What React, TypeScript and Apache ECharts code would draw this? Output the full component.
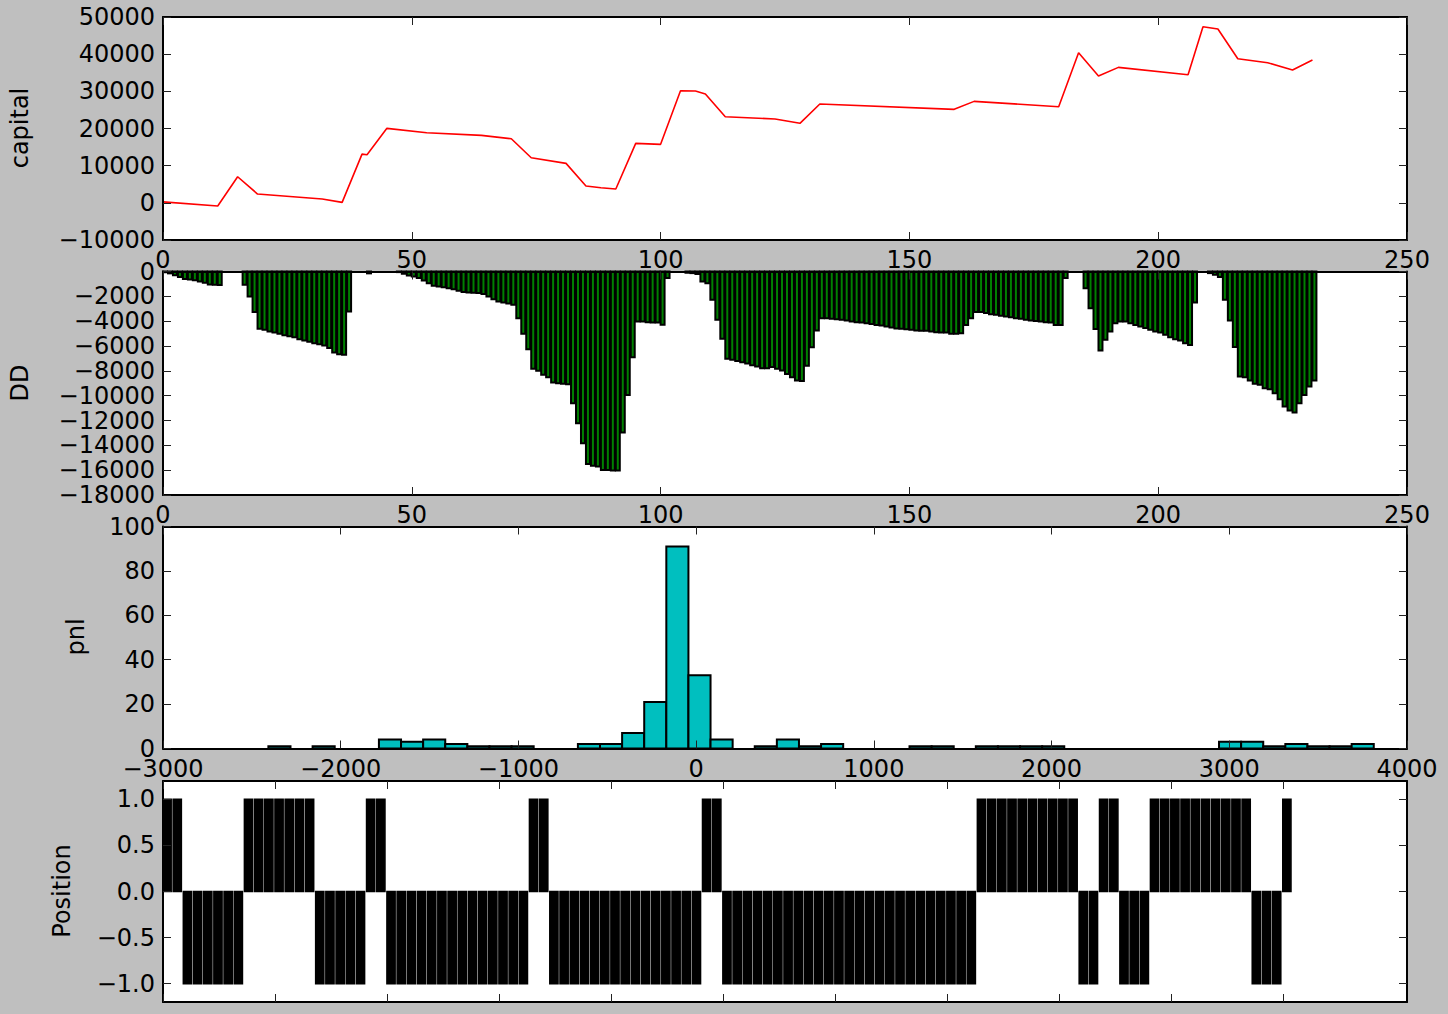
import React, { useEffect, useRef } from "react";
import * as echarts from "echarts";

// ---------- data ----------
const capitalX = [0, 11, 15, 19, 32, 36, 40, 41, 45, 53, 64, 70, 74, 81, 85, 88, 91, 95, 100, 104, 107, 109, 113, 123, 128, 132, 159, 163, 180, 184, 188, 192, 206, 209, 212, 216, 219, 222, 227, 231];
const capitalY = [250, -860, 7020, 2370, 1020, 130, 13100, 12950, 20040, 18860, 18150, 17250, 12130, 10620, 4520, 4060, 3710, 16000, 15740, 30160, 30080, 29270, 23170, 22550, 21390, 26580, 25150, 27300, 25850, 40380, 34110, 36450, 34460, 47380, 46760, 38770, 38230, 37690, 35730, 38420];

const ddValues = [
  -60, -150, -300, -450, -600, -650, -700, -800, -900, -1050,
  -1070, -1080, 0, 0, 0, 0, -1070, -2010, -3270, -4620,
  -4700, -4830, -4920, -5020, -5130, -5210, -5290, -5450, -5560, -5660,
  -5770, -5850, -5960, -6170, -6520, -6660, -6710, -3220, 0, 0,
  0, -150, 0, 0, 0, 0, 0, -50, -190, -320,
  -400, -530, -720, -940, -1150, -1210, -1260, -1340, -1420, -1560,
  -1660, -1690, -1720, -1740, -1820, -2010, -2230, -2420, -2500, -2580,
  -2680, -3760, -5020, -6260, -7840, -8000, -8320, -8510, -8940, -9000,
  -9050, -9080, -10610, -12220, -13830, -15500, -15650, -15710, -15980, -15980,
  -16030, -16030, -12970, -9940, -6900, -4030, -4030, -4080, -4110, -4110,
  -4290, -530, 0, 0, 0, -100, -130, -200, -800, -940,
  -2280, -3890, -5420, -7030, -7110, -7200, -7310, -7410, -7550, -7650,
  -7790, -7790, -7700, -7840, -7980, -8250, -8510, -8780, -8810, -7600,
  -6100, -4750, -3760, -3760, -3810, -3840, -3890, -3950, -4030, -4080,
  -4110, -4160, -4220, -4300, -4350, -4430, -4510, -4590, -4620, -4650,
  -4700, -4750, -4780, -4780, -4830, -4890, -4910, -4910, -5020, -5020,
  -4970, -4300, -3760, -3270, -3270, -3350, -3440, -3490, -3570, -3630,
  -3680, -3760, -3810, -3890, -3950, -3980, -4030, -4080, -4110, -4300,
  -4300, -530, 0, 0, 0, -1340, -2950, -4640, -6360, -5500,
  -4830, -4160, -4030, -4030, -4160, -4300, -4430, -4560, -4700, -4830,
  -4910, -5100, -5290, -5450, -5560, -5770, -5910, -2500, 0, 0,
  -130, -270, -450, -2280, -3940, -6090, -8460, -8510, -8780, -9050,
  -9130, -9400, -9480, -9800, -10280, -10870, -11200, -11360, -10610, -9940,
  -9260, -8780,
];

const pnlBinStart = -2407;
const pnlBinWidth = 124.4;
const pnlCounts = [
  1, 0, 1, 0, 0, 4, 3, 4, 2, 1,
  1, 1, 0, 0, 2, 2, 7, 21, 91, 33,
  4, 0, 1, 4, 1, 2, 0, 0, 0, 1,
  1, 0, 1, 1, 1, 1, 0, 0, 0, 0,
  0, 0, 0, 3, 3, 1, 2, 1, 1, 2,
];

const positionValues = [
  1, 1, -1, -1, -1, -1, -1, -1, 1, 1,
  1, 1, 1, 1, 1, -1, -1, -1, -1, -1,
  1, 1, -1, -1, -1, -1, -1, -1, -1, -1,
  -1, -1, -1, -1, -1, -1, 1, 1, -1, -1,
  -1, -1, -1, -1, -1, -1, -1, -1, -1, -1,
  -1, -1, -1, 1, 1, -1, -1, -1, -1, -1,
  -1, -1, -1, -1, -1, -1, -1, -1, -1, -1,
  -1, -1, -1, -1, -1, -1, -1, -1, -1, -1,
  1, 1, 1, 1, 1, 1, 1, 1, 1, 1,
  -1, -1, 1, 1, -1, -1, -1, 1, 1, 1,
  1, 1, 1, 1, 1, 1, 1, -1, -1, -1,
  1,
];
const positionYTicks = [-1, -0.5, 0, 0.5, 1];
const positionXTicks = [0, 11, 22, 33, 44, 55, 66, 77, 88, 99, 110];
const positionXMax = 122.2;

const axisTitles = ["capital", "DD", "pnl", "Position"];

// ---------- layout / style ----------
const FONT = "DejaVu Sans";
const FS = 24;
const BAR_W = 0.8;
const GRIDS = [
  { left: 163, top: 17, width: 1244, height: 223 },
  { left: 163, top: 271.5, width: 1244, height: 223.5 },
  { left: 163, top: 526.5, width: 1244, height: 222 },
  { left: 163, top: 781, width: 1244, height: 221 },
];
const TITLE_POS = [
  [20, 128],
  [20, 383],
  [76, 637],
  [62, 891],
];

const minus = (s: string) => s.replace("-", "\u2212");

function xAx(gridIndex: number, min: number, max: number, interval: number | undefined, position: string, showLabel: boolean, custom?: number[]) {
  const ax: any = {
    type: "value",
    gridIndex,
    min,
    max,
    position,
    z: 5,
    axisLine: { show: true, onZero: false, lineStyle: { color: "#000", width: 2 } },
    axisTick: { show: true, inside: true, length: 8, lineStyle: { color: "#222", width: 1 } },
    axisLabel: {
      show: showLabel,
      fontSize: FS,
      fontFamily: FONT,
      color: "#000",
      margin: 8,
      formatter: (v: number) => minus(String(v)),
    },
    splitLine: { show: false },
  };
  if (interval !== undefined) ax.interval = interval;
  if (custom) {
    ax.axisTick.customValues = custom;
    ax.axisLabel.customValues = custom;
  }
  return ax;
}

function yAx(gridIndex: number, min: number, max: number, interval: number | undefined, position: string, showLabel: boolean, custom?: number[]) {
  const ax: any = {
    type: "value",
    gridIndex,
    min,
    max,
    position,
    z: 5,
    axisLine: { show: true, onZero: false, lineStyle: { color: "#000", width: 2 } },
    axisTick: { show: true, inside: true, length: 8, lineStyle: { color: "#222", width: 1 } },
    axisLabel: {
      show: showLabel,
      fontSize: FS,
      fontFamily: FONT,
      color: "#000",
      margin: 8,
      formatter: (v: number) => minus(custom ? v.toFixed(1) : String(v)),
    },
    splitLine: { show: false },
  };
  if (interval !== undefined) ax.interval = interval;
  if (custom) {
    ax.axisTick.customValues = custom;
    ax.axisLabel.customValues = custom;
  }
  return ax;
}

function barRenderer(fill: string, lw: number, width: number) {
  return (params: any, api: any) => {
    const x = api.value(0);
    const v = api.value(1);
    if (!v) return { type: "group", children: [] };
    const p0 = api.coord([x, 0]);
    const p1 = api.coord([x + width, v]);
    return {
      type: "rect",
      shape: {
        x: p0[0],
        y: Math.min(p0[1], p1[1]),
        width: p1[0] - p0[0],
        height: Math.abs(p1[1] - p0[1]),
      },
      style: { fill, stroke: "#000", lineWidth: lw },
    };
  };
}

export default function App() {
  const ref = useRef<HTMLDivElement>(null);
  useEffect(() => {
    if (!ref.current) return;
    const chart = echarts.init(ref.current, null, { renderer: "svg" });
    const option: any = {
      animation: false,
      backgroundColor: "#bfbfbf",
      grid: GRIDS.map((g) => ({ ...g, show: true, backgroundColor: "#fff", borderWidth: 0, containLabel: false })),
      xAxis: [
        xAx(0, 0, 250, 50, "bottom", true),
        xAx(0, 0, 250, 50, "top", false),
        xAx(1, 0, 250, 50, "bottom", true),
        xAx(1, 0, 250, 50, "top", false),
        xAx(2, -3000, 4000, 1000, "bottom", true),
        xAx(2, -3000, 4000, 1000, "top", false),
        xAx(3, 0, positionXMax, undefined, "bottom", false, positionXTicks),
        xAx(3, 0, positionXMax, undefined, "top", false, positionXTicks),
      ],
      yAxis: [
        yAx(0, -10000, 50000, 10000, "left", true),
        yAx(0, -10000, 50000, 10000, "right", false),
        yAx(1, -18000, 0, 2000, "left", true),
        yAx(1, -18000, 0, 2000, "right", false),
        yAx(2, 0, 100, 20, "left", true),
        yAx(2, 0, 100, 20, "right", false),
        yAx(3, -1.2, 1.2, undefined, "left", true, positionYTicks),
        yAx(3, -1.2, 1.2, undefined, "right", false, positionYTicks),
      ],
      series: [
        {
          type: "line",
          xAxisIndex: 0,
          yAxisIndex: 0,
          data: capitalX.map((x, i) => [x, capitalY[i]]),
          showSymbol: false,
          symbol: "none",
          lineStyle: { color: "#ff0000", width: 1.6 },
          z: 2,
        },
        {
          type: "custom",
          xAxisIndex: 2,
          yAxisIndex: 2,
          data: ddValues.map((v, i) => [i, v]),
          encode: { x: 0, y: 1 },
          renderItem: barRenderer("#008000", 2, BAR_W),
          z: 2,
        },
        {
          type: "custom",
          xAxisIndex: 4,
          yAxisIndex: 4,
          data: pnlCounts.map((c, k) => [pnlBinStart + k * pnlBinWidth, c]),
          encode: { x: 0, y: 1 },
          renderItem: barRenderer("#00bfbf", 2, pnlBinWidth),
          z: 2,
        },
        {
          type: "custom",
          xAxisIndex: 6,
          yAxisIndex: 6,
          data: positionValues.map((v, i) => [i, v]),
          encode: { x: 0, y: 1 },
          renderItem: barRenderer("#000000", 1.6, BAR_W),
          z: 2,
        },
      ],
      graphic: axisTitles.map((t, i) => ({
        type: "text",
        x: TITLE_POS[i][0],
        y: TITLE_POS[i][1],
        rotation: Math.PI / 2,
        style: {
          text: t,
          fontSize: FS,
          fontFamily: FONT,
          fill: "#000",
          align: "center",
          verticalAlign: "middle",
        },
      })),
    };
    chart.setOption(option);
    return () => chart.dispose();
  }, []);
  return (
    <div
      ref={ref}
      style={{ position: "absolute", left: 0, top: 0, width: 1448, height: 1014 }}
    />
  );
}
